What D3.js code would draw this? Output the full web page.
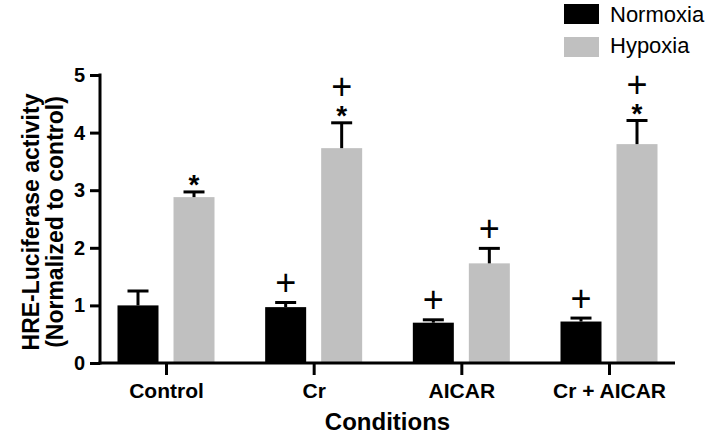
<!DOCTYPE html>
<html><head><meta charset="utf-8">
<script src="https://cdn.jsdelivr.net/npm/d3@7"></script>
<style>body{margin:0;background:#fff}svg{display:block}</style>
</head><body>
<svg id="c" width="709" height="440"></svg>
<script>
const categories = ["Control", "Cr", "AICAR", "Cr + AICAR"];
const seriesNames = ["Normoxia", "Hypoxia"];
const normoxia = [1.0, 0.97, 0.70, 0.72];
const normoxiaErr = [0.25, 0.08, 0.05, 0.06];
const hypoxia = [2.88, 3.73, 1.73, 3.80];
const hypoxiaErr = [0.09, 0.44, 0.26, 0.41];
const normoxiaMarks = ["", "+", "+", "+"];
const hypoxiaMarks = ["*", "*+", "+", "*+"];
const yTicks = [0, 1, 2, 3, 4, 5];
const colors = {Normoxia: "#000000", Hypoxia: "#c0c0c0"};

const rows = [];
categories.forEach((c, i) => {
  rows.push({cat: c, s: "Normoxia", v: normoxia[i], e: normoxiaErr[i], m: normoxiaMarks[i]});
  rows.push({cat: c, s: "Hypoxia", v: hypoxia[i], e: hypoxiaErr[i], m: hypoxiaMarks[i]});
});

const svg = d3.select("#c");
const font = "'Liberation Sans', Arial, Helvetica, sans-serif";
const x0 = d3.scalePoint().domain(categories).range([166, 609]);
const x1 = d3.scaleBand().domain(seriesNames).range([-48.5, 48.5]).paddingInner(0.268);
const y = d3.scaleLinear().domain([0, 5]).range([363, 75]);

// bars
svg.append("g").selectAll("rect").data(rows).join("rect")
  .attr("x", d => x0(d.cat) + x1(d.s))
  .attr("width", x1.bandwidth())
  .attr("y", d => y(d.v))
  .attr("height", d => y(0) - y(d.v))
  .attr("fill", d => colors[d.s]);

// error bars
const eg = svg.append("g").attr("stroke", "#000").attr("stroke-width", 3);
rows.forEach(d => {
  const cx = x0(d.cat) + x1(d.s) + x1.bandwidth() / 2;
  eg.append("line").attr("x1", cx).attr("x2", cx).attr("y1", y(d.v)).attr("y2", y(d.v + d.e));
  eg.append("line").attr("x1", cx - 10.5).attr("x2", cx + 10.5).attr("y1", y(d.v + d.e)).attr("y2", y(d.v + d.e));
});

// significance marks (one text per bar, symbols stacked as tspans)
const mg = svg.append("g").attr("font-family", font).attr("text-anchor", "middle").attr("fill", "#000");
rows.filter(d => d.m).forEach(d => {
  const cx = x0(d.cat) + x1(d.s) + x1.bandwidth() / 2;
  const t = mg.append("text");
  let c = y(d.v + d.e);
  d.m.split("").forEach((sym, k) => {
    c -= (k === 0 ? (sym === "*" ? 13 : 20) : 23);
    if (sym === "+") {
      t.append("tspan").attr("x", cx).attr("y", c + 12.5).attr("font-size", 36).text("+");
    } else {
      t.append("tspan").attr("x", cx).attr("y", c + 15).attr("font-size", 28).attr("font-weight", "bold").text("*");
    }
  });
});

// y axis
const ya = svg.append("g").attr("transform", "translate(100,0)")
  .call(d3.axisLeft(y).tickValues(yTicks).tickSize(10).tickSizeOuter(0).tickPadding(5).tickFormat(d3.format("d")));
ya.select(".domain").attr("stroke-width", 3).attr("d", `M0,${y(5)-1.5}V${y(0)+1.5}`);
ya.selectAll(".tick line").attr("stroke-width", 3);
ya.selectAll(".tick text").attr("font-family", font).attr("font-size", 20).attr("font-weight", "bold").attr("fill", "#000");

// x axis
const xa = svg.append("g").attr("transform", `translate(0,${y(0)})`)
  .call(d3.axisBottom(x0).tickSize(12).tickSizeOuter(0).tickPadding(12));
xa.select(".domain").attr("stroke-width", 3).attr("d", "M98.5,0H675");
xa.selectAll(".tick line").attr("stroke-width", 3);
xa.selectAll(".tick text").attr("font-family", font).attr("font-size", 21).attr("font-weight", "bold").attr("fill", "#000")
  .attr("dy", null).attr("y", 35);

// axis titles
svg.append("text").attr("x", 387.5).attr("y", 430).attr("text-anchor", "middle")
  .attr("font-family", font).attr("font-size", 24).attr("font-weight", "bold").text("Conditions");
const yt = svg.append("text").attr("transform", "translate(0,222) rotate(-90)").attr("text-anchor", "middle")
  .attr("font-family", font).attr("font-size", 23).attr("font-weight", "bold");
yt.append("tspan").attr("x", 0).attr("y", 39).text("HRE-Luciferase activity");
yt.append("tspan").attr("x", 0).attr("y", 63).text("(Normalized to control)");

// legend
const lg = svg.append("g").attr("font-family", font);
seriesNames.forEach((s, i) => {
  lg.append("rect").attr("x", 564).attr("y", 4 + i * 33).attr("width", 35).attr("height", 20).attr("fill", colors[s]);
  lg.append("text").attr("x", 610).attr("y", 22 + i * 31).attr("font-size", 22).attr("fill", "#000").text(s);
});
</script>
</body></html>
